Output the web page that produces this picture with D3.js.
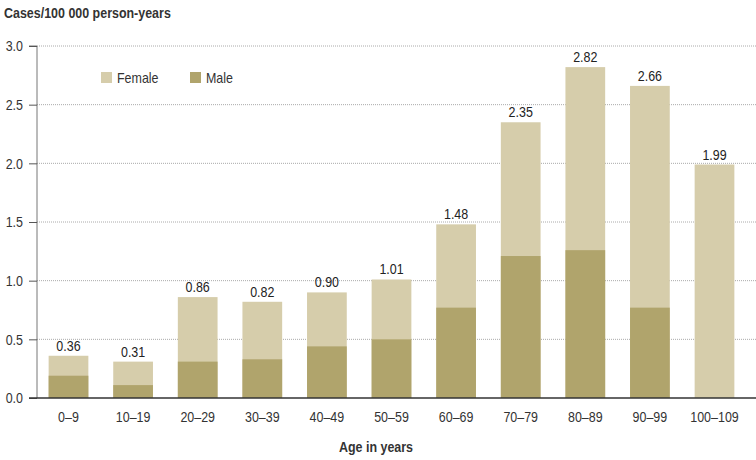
<!DOCTYPE html>
<html><head><meta charset="utf-8">
<script src="https://cdn.jsdelivr.net/npm/d3@7"></script>
<style>
body{margin:0;background:#fff;}
text{font-family:"Liberation Sans",Arial,sans-serif;}
</style></head>
<body><svg id="c" width="756" height="460"></svg>
<script>
const categories = ["0–9","10–19","20–29","30–39","40–49","50–59","60–69","70–79","80–89","90–99","100–109"];
const totals = [0.36,0.31,0.86,0.82,0.90,1.01,1.48,2.35,2.82,2.66,1.99];
const male = [0.19,0.11,0.31,0.33,0.44,0.50,0.77,1.21,1.26,0.77,0];
const totalLabels = ["0.36","0.31","0.86","0.82","0.90","1.01","1.48","2.35","2.82","2.66","1.99"];
const yTicks = [0,0.5,1.0,1.5,2.0,2.5,3.0];
const seriesNames = ["Female","Male"];
const colors = {Female:"#d6cdab", Male:"#b0a46c"};
const FONT = '"Liberation Sans",Arial,sans-serif';

const svg = d3.select("#c");
const x0 = 37, yTop = 46, yBot = 398;
const x = d3.scaleBand().domain(categories).range([37, 746]).paddingInner(0.385).paddingOuter(0.18);
const y = d3.scaleLinear().domain([0,3]).range([yBot, yTop]);

// grid
svg.append("g").selectAll("line").data(yTicks.filter(d=>d>0)).join("line")
  .attr("x1", x0).attr("x2", 756).attr("y1", d=>y(d)).attr("y2", d=>y(d))
  .attr("stroke", "#aaa").attr("stroke-width", 1).attr("stroke-dasharray", "1,1");

// y axis
const yAxis = d3.axisLeft(y).tickValues(yTicks).tickFormat(d3.format(".1f")).tickSize(8).tickPadding(6);
const gy = svg.append("g").attr("transform", `translate(${x0},0)`).call(yAxis);
gy.select(".domain").attr("stroke", "#777").attr("d", `M-8,${yTop}H0V${yBot}`);
gy.selectAll(".tick line").attr("stroke", "#555");
gy.selectAll(".tick text").attr("fill", "#333").style("font-size", "15px").attr("font-family", FONT);

// bars
const data = categories.map((c,i)=>({c, total: totals[i], male: male[i], label: totalLabels[i]}));
svg.append("g").selectAll("rect").data(data).join("rect")
  .attr("x", d=>x(d.c)).attr("width", x.bandwidth())
  .attr("y", d=>y(d.total)).attr("height", d=>y(0)-y(d.total))
  .attr("fill", colors.Female);
svg.append("g").selectAll("rect").data(data.filter(d=>d.male>0)).join("rect")
  .attr("x", d=>x(d.c)).attr("width", x.bandwidth())
  .attr("y", d=>y(d.male)).attr("height", d=>y(0)-y(d.male))
  .attr("fill", colors.Male);

// value labels
svg.append("g").selectAll("text").data(data).join("text")
  .attr("x", d=>x(d.c)+x.bandwidth()/2).attr("y", d=>y(d.total)-5)
  .attr("text-anchor","middle").attr("fill","#222").style("font-size","15px")
  .text(d=>d.label);

// x axis
const xAxis = d3.axisBottom(x).tickSize(0).tickPadding(13);
const gx = svg.append("g").attr("transform", `translate(0,${yBot})`).call(xAxis);
gx.select(".domain").attr("stroke", "#333").attr("stroke-width", 1.3).attr("d", `M29,0H756`);
gx.selectAll(".tick text").attr("fill", "#333").style("font-size", "15px").attr("font-family", FONT);

// titles
svg.append("text").attr("x", 4).attr("y", 18).attr("font-weight","bold").attr("fill","#333")
  .style("font-size","15px").text("Cases/100 000 person-years");
svg.append("text").attr("x", 376).attr("y", 452).attr("text-anchor","middle").attr("font-weight","bold").attr("fill","#333")
  .style("font-size","15px").text("Age in years");

// legend
const legX = [101, 190];
const lg = svg.append("g").selectAll("g").data(seriesNames).join("g")
  .attr("transform", (d,i)=>`translate(${legX[i]},72)`);
lg.append("rect").attr("width",11).attr("height",11).attr("fill", d=>colors[d]);
lg.append("text").attr("x",16).attr("y",11).attr("fill","#333").style("font-size","15px").text(d=>d);

// emulate a narrow typeface by condensing glyphs horizontally
svg.selectAll("text").each(function(){
  const len = this.getComputedTextLength();
  if (len > 0) d3.select(this).attr("textLength", len*0.83).attr("lengthAdjust","spacingAndGlyphs");
});
</script></body></html>
